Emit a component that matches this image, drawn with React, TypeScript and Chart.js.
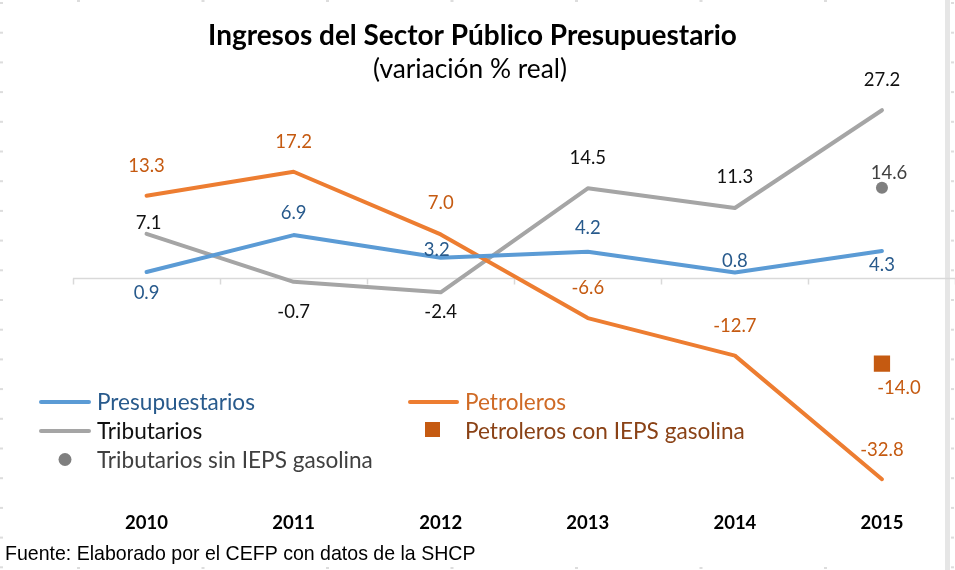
import React, { useEffect, useRef } from 'react';
import { Chart, registerables } from 'chart.js';
Chart.register(...registerables);

const YEARS = ['2010', '2011', '2012', '2013', '2014', '2015'];
const PRESUPUESTARIOS = [0.9, 6.9, 3.2, 4.2, 0.8, 4.3];
const PETROLEROS = [13.3, 17.2, 7.0, -6.6, -12.7, -32.8];
const TRIBUTARIOS = [7.1, -0.7, -2.4, 14.5, 11.3, 27.2];
const TRIB_SIN_IEPS = [null, null, null, null, null, 14.6];
const PETRO_CON_IEPS = [null, null, null, null, null, -14.0];

const TITLE = 'Ingresos del Sector Público Presupuestario';
const SUBTITLE = '(variación % real)';
const SOURCE = 'Fuente: Elaborado por el CEFP con datos de la SHCP';
const SERIES_NAMES = [
  'Presupuestarios',
  'Petroleros',
  'Tributarios',
  'Tributarios sin IEPS gasolina',
  'Petroleros con IEPS gasolina',
];

const BLUE = '#5B9BD5';
const ORANGE = '#ED7D31';
const GRAY = '#A5A5A5';
const DOT = '#7F7F7F';
const SQUARE = '#C55A11';

// label styling per dataset (offsets in px relative to point)
const LABEL_STYLE = [
  { color: '#285A8C', dx: [0, 0, -4, 0, 0, 0], dy: [21, -22, -8, -24, -12, 14] },
  { color: '#C55A11', dx: [0, 0, 0, 0, 0, 0], dy: [-30, -30, -31, -30, -30, -29] },
  { color: '#111111', dx: [2, 0, 0, 0, 0, 0], dy: [-11, 30, 20, -30, -31, -30] },
  { color: '#404040', dx: [0, 0, 0, 0, 0, 7], dy: [0, 0, 0, 0, 0, -15] },
  { color: '#C55A11', dx: [0, 0, 0, 0, 0, 17], dy: [0, 0, 0, 0, 0, 24] },
];

const FONT = 'Lato, "Open Sans", sans-serif';

function fitSize(ctx: CanvasRenderingContext2D, text: string, weight: string, family: string, target: number) {
  ctx.font = `${weight} 100px ${family}`;
  const w = ctx.measureText(text).width;
  return (100 * target) / w;
}

const decorPlugin = {
  id: 'decor',
  beforeDraw(chart: any) {
    const ctx = chart.ctx as CanvasRenderingContext2D;
    ctx.save();
    ctx.fillStyle = '#ffffff';
    ctx.fillRect(0, 0, chart.width, chart.height);
    ctx.fillStyle = '#E6E6E6';
    ctx.fillRect(945, 0, 5, chart.height);
    ctx.fillStyle = '#DDDDDD';
    for (let y = 2; y < chart.height; y += 29.7) {
      ctx.fillRect(0, y, 3, 2);
      ctx.fillRect(951, y, 3, 2);
    }
    for (let x = 77; x < 945; x += 124.5) {
      ctx.fillRect(x, 0, 3, 2);
      ctx.fillRect(x, chart.height - 3, 3, 2);
    }
    // zero axis with category boundary ticks
    const xs = chart.scales.x;
    const ys = chart.scales.y;
    const y0 = Math.round(ys.getPixelForValue(0)) + 0.5;
    const step = xs.getPixelForValue(1) - xs.getPixelForValue(0);
    const { left, right } = chart.chartArea;
    ctx.strokeStyle = '#D9D9D9';
    ctx.lineWidth = 1.5;
    ctx.beginPath();
    ctx.moveTo(left, y0);
    ctx.lineTo(right, y0);
    for (let i = 0; i <= YEARS.length; i++) {
      const x = Math.round(xs.getPixelForValue(i) - step / 2) + 0.5;
      ctx.moveTo(x, y0);
      ctx.lineTo(x, y0 + 6);
    }
    ctx.stroke();
    ctx.restore();
  },
  afterDatasetsDraw(chart: any) {
    const ctx = chart.ctx as CanvasRenderingContext2D;
    ctx.save();
    ctx.textAlign = 'center';
    ctx.textBaseline = 'middle';
    ctx.font = `400 18.5px ${FONT}`;
    chart.data.datasets.forEach((ds: any, di: number) => {
      const meta = chart.getDatasetMeta(di);
      const st = LABEL_STYLE[di];
      ds.data.forEach((v: number | null, i: number) => {
        if (v === null || v === undefined) return;
        const el = meta.data[i];
        ctx.fillStyle = st.color;
        ctx.fillText(v.toFixed(1), el.x + st.dx[i], el.y + st.dy[i]);
      });
    });
    ctx.restore();
  },
  afterDraw(chart: any) {
    const ctx = chart.ctx as CanvasRenderingContext2D;
    ctx.save();
    // title
    ctx.textAlign = 'center';
    ctx.textBaseline = 'alphabetic';
    ctx.fillStyle = '#000000';
    let s = fitSize(ctx, TITLE, '700', FONT, 529);
    ctx.font = `700 ${s}px ${FONT}`;
    ctx.fillText(TITLE, 472.5, 45);
    s = fitSize(ctx, SUBTITLE, '400', FONT, 194);
    ctx.font = `400 ${s}px ${FONT}`;
    ctx.fillText(SUBTITLE, 470, 78);

    // legend
    ctx.textAlign = 'left';
    const ls = fitSize(ctx, SERIES_NAMES[3], '400', FONT, 276);
    ctx.font = `400 ${ls}px ${FONT}`;
    ctx.lineCap = 'round';
    ctx.lineWidth = 4;
    const line = (x1: number, x2: number, y: number, c: string) => {
      ctx.strokeStyle = c;
      ctx.beginPath();
      ctx.moveTo(x1, y);
      ctx.lineTo(x2, y);
      ctx.stroke();
    };
    line(41, 89, 402, BLUE);
    ctx.fillStyle = '#285A8C';
    ctx.fillText(SERIES_NAMES[0], 97, 409.5);
    line(41, 89, 431, GRAY);
    ctx.fillStyle = '#111111';
    ctx.fillText(SERIES_NAMES[2], 97, 438.5);
    ctx.fillStyle = DOT;
    ctx.beginPath();
    ctx.arc(65, 459.5, 6.5, 0, Math.PI * 2);
    ctx.fill();
    ctx.fillStyle = '#404040';
    ctx.fillText(SERIES_NAMES[3], 97, 467.5);
    line(410, 457, 402, ORANGE);
    ctx.fillStyle = '#CF6A25';
    ctx.fillText(SERIES_NAMES[1], 465, 409.5);
    ctx.fillStyle = SQUARE;
    ctx.fillRect(425, 422, 15, 15);
    ctx.fillStyle = '#8A4216';
    ctx.fillText(SERIES_NAMES[4], 465, 438.5);

    // source
    const fs = fitSize(ctx, SOURCE, '400', '"Liberation Sans", Arial, sans-serif', 471);
    ctx.font = `400 ${fs}px "Liberation Sans", Arial, sans-serif`;
    ctx.fillStyle = '#000000';
    ctx.fillText(SOURCE, 5, 560);
    ctx.restore();
  },
};

export default function App() {
  const ref = useRef<HTMLCanvasElement>(null);
  useEffect(() => {
    document.body.style.margin = '0';
    const canvas = ref.current!;
    const chart = new Chart(canvas, {
      type: 'line',
      data: {
        labels: YEARS,
        datasets: [
          {
            label: SERIES_NAMES[0],
            data: PRESUPUESTARIOS,
            borderColor: BLUE,
            borderWidth: 4,
            pointRadius: 0,
            borderCapStyle: 'round',
            borderJoinStyle: 'round',
          },
          {
            label: SERIES_NAMES[1],
            data: PETROLEROS,
            borderColor: ORANGE,
            borderWidth: 4,
            pointRadius: 0,
            borderCapStyle: 'round',
            borderJoinStyle: 'round',
          },
          {
            label: SERIES_NAMES[2],
            data: TRIBUTARIOS,
            borderColor: GRAY,
            borderWidth: 4,
            pointRadius: 0,
            borderCapStyle: 'round',
            borderJoinStyle: 'round',
          },
          {
            label: SERIES_NAMES[3],
            data: TRIB_SIN_IEPS,
            showLine: false,
            pointStyle: 'circle',
            pointRadius: 6,
            pointBackgroundColor: DOT,
            pointBorderWidth: 0,
            borderColor: DOT,
          },
          {
            label: SERIES_NAMES[4],
            data: PETRO_CON_IEPS,
            showLine: false,
            pointStyle: 'rect',
            pointRadius: 11.5,
            pointBackgroundColor: SQUARE,
            pointBorderWidth: 0,
            borderColor: SQUARE,
          },
        ] as any,
      },
      options: {
        responsive: false,
        animation: false,
        devicePixelRatio: 1,
        layout: { padding: { top: 93, left: 73, right: 4, bottom: 0 } },
        plugins: { legend: { display: false }, tooltip: { enabled: false }, title: { display: false } },
        scales: {
          x: {
            offset: true,
            grid: { display: false, offset: true },
            border: { display: false },
            ticks: { color: '#000000', font: { family: FONT, size: 18.5, weight: 'bold' }, padding: 11, maxRotation: 0 },
            afterFit: (scale: any) => {
              scale.height = 77.25;
            },
          },
          y: { display: false, min: -35, max: 30 },
        },
      },
      plugins: [decorPlugin],
    });
    return () => chart.destroy();
  }, []);
  return (
    <div style={{ width: 955, height: 570, overflow: 'hidden', position: 'relative' }}>
      <canvas ref={ref} width={967} height={570} style={{ display: 'block', width: 967, height: 570 }} />
    </div>
  );
}
